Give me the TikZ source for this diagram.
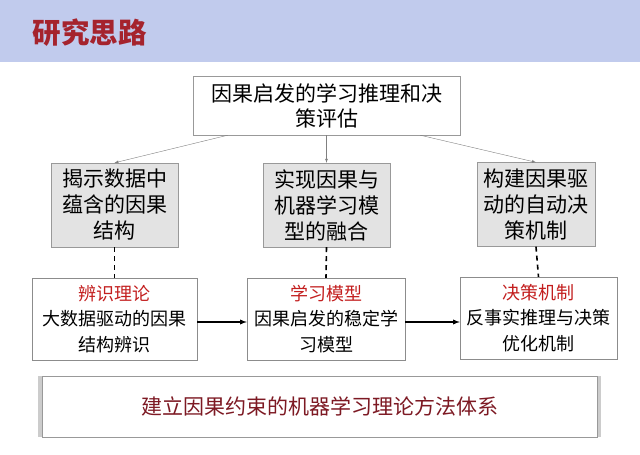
\documentclass[tikz,border=0pt]{standalone}
\usepackage{fontspec}
\newfontfamily\cjk{Noto Sans CJK SC}
\usetikzlibrary{arrows, shadows}

\definecolor{bandblue}{RGB}{193,203,237}
\definecolor{titlered}{RGB}{165,35,45}
\definecolor{labelred}{RGB}{195,30,30}
\definecolor{basered}{RGB}{125,25,35}

\tikzset{
  topbox/.style={draw=gray!80, fill=white, minimum width=267pt, minimum height=59pt,
    align=center, inner sep=0pt, font=\cjk\fontsize{21}{25}\selectfont},
  graybox/.style={draw=gray!80, fill=gray!22, minimum height=84pt,
    align=center, inner sep=0pt, font=\cjk\fontsize{21}{26}\selectfont},
  whitebox/.style={draw=gray!90, fill=white, minimum height=82pt,
    align=center, inner sep=0pt, font=\cjk\fontsize{18}{25.5}\selectfont},
  baseline box/.style={draw=gray!80, fill=white, minimum width=555pt, minimum height=61pt,
    drop shadow={shadow xshift=0pt, shadow yshift=0pt, shadow scale=1.016, fill=gray!80},
    text=basered, font=\cjk\fontsize{21}{25}\selectfont},
  link/.style={gray, -latex},
}

\begin{document}
\begin{tikzpicture}[x=1pt, y=-1pt]
\useasboundingbox (0,0) rectangle (640,455);

% header band
\fill[bandblue] (0,0) rectangle (640,62);
\node[anchor=west, text=titlered, font=\cjk\bfseries\fontsize{28.5}{30}\selectfont] (title) at (29,33) {研究思路};

\node[topbox] (goal) at (326.5,105.5) {因果启发的学习推理和决\\策评估};

\node[graybox, minimum width=127pt] (reveal) at (114.5,205) {揭示数据中\\蕴含的因果\\结构};
\node[graybox, minimum width=127pt] (fuse) at (326.5,205) {实现因果与\\机器学习模\\型的融合};
\node[graybox, minimum width=118pt] (drive) at (536,204.5) {构建因果驱\\动的自动决\\策机制};

\node[whitebox, minimum width=165pt] (ident) at (114.5,319) {\textcolor{labelred}{辨识理论}\\大数据驱动的因果\\结构辨识};
\node[whitebox, minimum width=158pt] (model) at (326,319) {\textcolor{labelred}{学习模型}\\因果启发的稳定学\\习模型};
\node[whitebox, minimum width=157pt] (policy) at (538.5,318) {\textcolor{labelred}{决策机制}\\反事实推理与决策\\优化机制};

\node[baseline box] (system) at (319.5,406.5) {建立因果约束的机器学习理论方法体系};

% connectors
\draw[link] ([xshift=35pt]goal.south west) -- (reveal.north);
\draw[link] (goal.south) -- (fuse.north);
\draw[link] ([xshift=-40pt]goal.south east) -- (drive.north);

\foreach \a/\b in {reveal/ident, fuse/model, drive/policy}
    \draw[line width=1.6pt, dash pattern=on 5pt off 4pt] (\a.south) -- (\b.north);

\draw[line width=1.3pt, -latex] ([yshift=-3pt]ident.east) -- ([yshift=-3pt]model.west);
\draw[line width=1.3pt, -latex] ([yshift=-3pt]model.east) -- ([yshift=-3pt]model.east -| policy.west);

\end{tikzpicture}
\end{document}
